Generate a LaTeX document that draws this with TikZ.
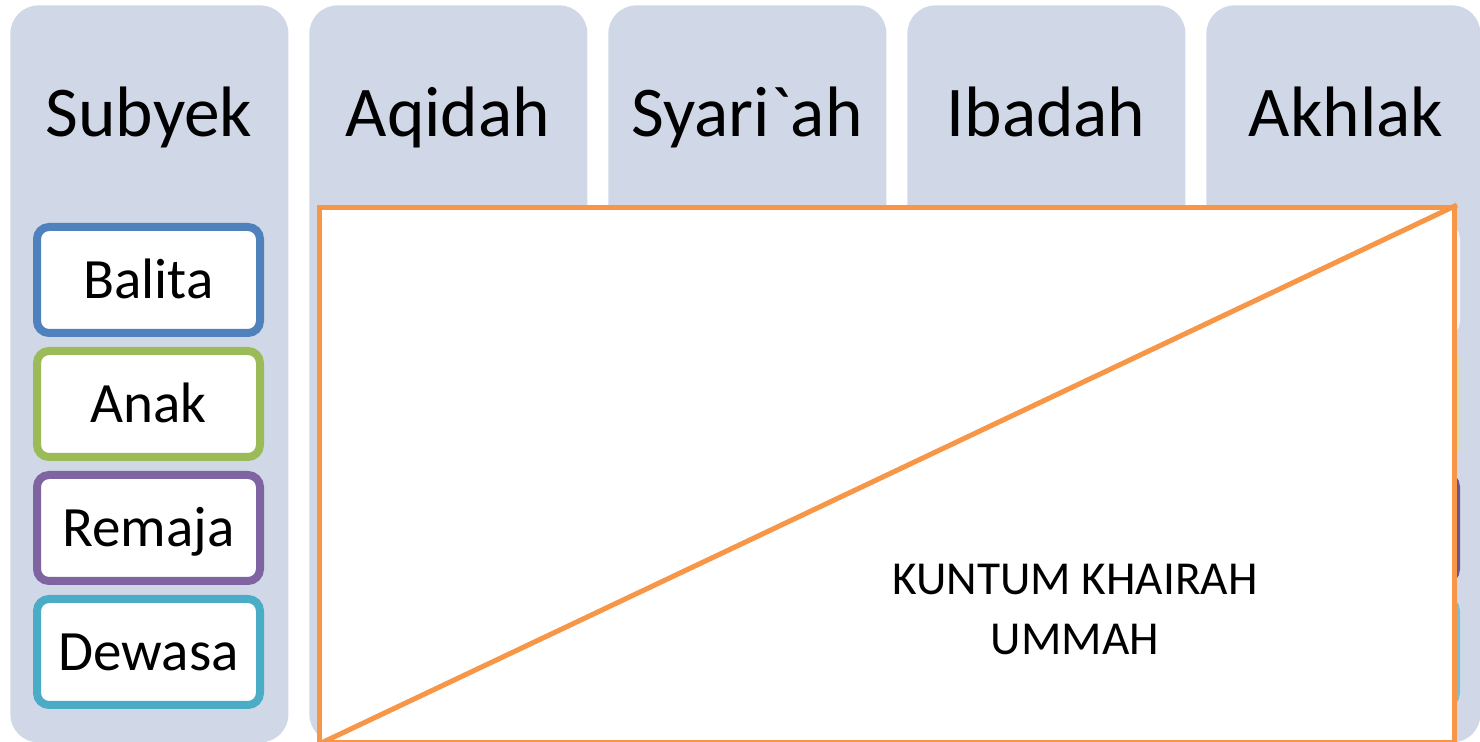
\documentclass[tikz,border=0pt]{standalone}
\usepackage{fontspec}
\setmainfont{Carlito}
\newfontfamily\calib{Carlito}
\definecolor{colfill}{HTML}{D0D8E8}
\definecolor{cblue}{HTML}{4F81BD}
\definecolor{cgreen}{HTML}{9BBB59}
\definecolor{cpurple}{HTML}{8064A2}
\definecolor{cteal}{HTML}{4BACC6}
\definecolor{corange}{HTML}{F79646}
\begin{document}
\begin{tikzpicture}[x=0.5pt,y=-0.5pt,
  col/.style={fill=colfill, draw=none, rounded corners=14pt, minimum width=139pt,
    minimum height=368.5pt, inner sep=0pt, anchor=north west},
  hdr/.style={font=\calib\fontsize{35.7}{42}\selectfont, anchor=base, inner sep=0pt},
  box/.style={rounded corners=6pt, fill=white, line width=4pt, minimum width=111.5pt,
    minimum height=53pt, inner sep=0pt, font=\calib\fontsize{28.5}{34}\selectfont,
    text height=18.4pt, text depth=0pt},
  frame/.style={draw=corange, fill=white, line width=2.5pt, inner sep=0pt,
    anchor=north west, minimum width=567.5pt, minimum height=267.5pt},
  link/.style={draw=corange, line width=2.5pt}
]
\useasboundingbox (0,0) rectangle (1480,742);
% columns
\node[col] (c1) at (10,5) {};
\node[col] (c2) at (309,5) {};
\node[col] (c3) at (608,5) {};
\node[col] (c4) at (907,5) {};
\node[col, minimum width=137pt] (c5) at (1206,5) {};
% headers
\node[hdr] (h1) at (149,137) {Subyek};
\node[hdr] (h2) at (448,137) {Aqidah};
\node[hdr] (h3) at (747,137) {Syari`ah};
\node[hdr] (h4) at (1046,137) {Ibadah};
\node[hdr] (h5) at (1346,137) {Akhlak};
% subject boxes
\node[box, draw=cblue] (b1) at (148.5,280) {Balita};
\node[box, draw=cgreen] (b2) at (148.5,404) {Anak};
\node[box, draw=cpurple] (b3) at (148.5,528) {Remaja};
\node[box, draw=cteal] (b4) at (148.5,652) {Dewasa};
% hidden boxes of the last column
\node[box, draw=cblue!8!white] (k1) at (1344.5,280) {};
\node[box, draw=cgreen!45!white] (k2) at (1344.5,404) {};
\node[box, draw=cpurple!85!black] (k3) at (1344.5,528) {};
\node[box, draw=cteal!75!white] (k4) at (1344.5,652) {};
% frame
\node[frame] (fr) at (317,205) {};
\draw[link] (fr.south west) -- (fr.north east);
\node[align=center, inner sep=0pt, font=\calib\fontsize{23.65}{30}\selectfont] (kh) at (1075,610)
  {KUNTUM KHAIRAH\\UMMAH};
\end{tikzpicture}
\end{document}
